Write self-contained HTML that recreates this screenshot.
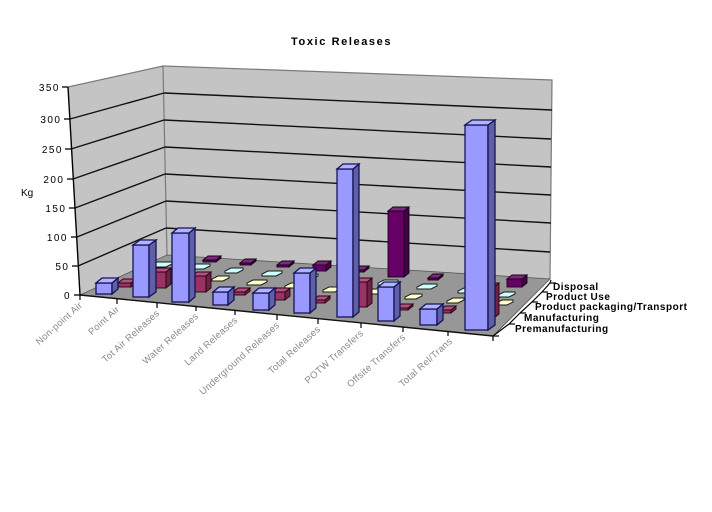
<!DOCTYPE html>
<html>
<head>
<meta charset="utf-8">
<style>
html,body{margin:0;padding:0;background:#fff;}
svg{display:block;}
text{font-family:"Liberation Sans",Arial,sans-serif;}
</style>
</head>
<body>
<svg width="712" height="512" viewBox="0 0 712 512" xmlns="http://www.w3.org/2000/svg">
<rect x="0" y="0" width="712" height="512" fill="#fff"/>

<!-- Title -->
<text x="291" y="45" font-size="11" font-weight="bold" letter-spacing="1.6" fill="#000">Toxic Releases</text>

<!-- Walls -->
<polygon points="68,87 163,66 167,255 80,295" fill="#c4c4c4"/>
<polygon points="163,66 552,80 550,279 167,255" fill="#c4c4c4"/>
<polyline points="68,87 163,66 552,80 550,279" fill="none" stroke="#7a7a7a" stroke-width="1.2"/>
<line x1="163" y1="66" x2="167" y2="255" stroke="#7a7a7a" stroke-width="1.2"/>

<!-- Gridlines -->
<g stroke="#111" stroke-width="1.4" fill="none">
<line x1="70" y1="119" x2="164" y2="93"/>
<line x1="71" y1="149" x2="164" y2="120"/>
<line x1="73" y1="179" x2="165" y2="147"/>
<line x1="75" y1="208" x2="165" y2="174"/>
<line x1="77" y1="237" x2="166" y2="201"/>
<line x1="78" y1="266" x2="166" y2="228"/>
<line x1="164" y1="93" x2="552" y2="110"/>
<line x1="164" y1="120" x2="551" y2="139"/>
<line x1="165" y1="147" x2="551" y2="167"/>
<line x1="165" y1="174" x2="551" y2="195"/>
<line x1="166" y1="201" x2="551" y2="223"/>
<line x1="166" y1="228" x2="550" y2="252"/>
</g>

<!-- Floor -->
<polygon points="80,295 493,336 550,279 167,255" fill="#979797" stroke="#555" stroke-width="0.8"/>
<line x1="80" y1="295" x2="493" y2="336" stroke="#111" stroke-width="1.4"/>

<!-- Y axis -->
<line x1="68" y1="87" x2="80" y2="295" stroke="#000" stroke-width="1.4"/>
<g stroke="#000" stroke-width="1.3">
<line x1="62" y1="87" x2="68" y2="87"/>
<line x1="64" y1="119" x2="70" y2="119"/>
<line x1="65" y1="149" x2="71" y2="149"/>
<line x1="67" y1="179" x2="73" y2="179"/>
<line x1="69" y1="208" x2="75" y2="208"/>
<line x1="71" y1="237" x2="77" y2="237"/>
<line x1="72" y1="266" x2="78" y2="266"/>
<line x1="74" y1="295" x2="80" y2="295"/>
</g>
<g font-size="10" fill="#000" text-anchor="end" letter-spacing="1.5">
<text x="60" y="91">350</text>
<text x="61.5" y="123">300</text>
<text x="63" y="153">250</text>
<text x="64.5" y="183">200</text>
<text x="66.5" y="212">150</text>
<text x="68" y="241">100</text>
<text x="69.5" y="270">50</text>
<text x="71" y="299">0</text>
</g>
<text x="21" y="196" font-size="10" fill="#000">Kg</text>

<!-- Row 5: Disposal (purple) -->
<g stroke="#1a001a" stroke-width="0.9">
<rect x="203" y="260" width="13" height="2" fill="#660066"/><polygon points="216,260 221,256 221,258 216,262" fill="#440044"/><polygon points="203,260 208,256 221,256 216,260" fill="#7a2a7a"/>
<rect x="240" y="263" width="11" height="2" fill="#660066"/><polygon points="251,263 256,259 256,261 251,265" fill="#440044"/><polygon points="240,263 245,259 256,259 251,263" fill="#7a2a7a"/>
<rect x="277" y="265" width="12" height="2" fill="#660066"/><polygon points="289,265 294,261 294,263 289,267" fill="#440044"/><polygon points="277,265 282,261 294,261 289,265" fill="#7a2a7a"/>
<rect x="313" y="265" width="13" height="6" fill="#660066"/><polygon points="326,265 331,261 331,267 326,271" fill="#440044"/><polygon points="313,265 318,261 331,261 326,265" fill="#7a2a7a"/>
<rect x="352" y="270" width="12" height="2" fill="#660066"/><polygon points="364,270 369,266 369,268 364,272" fill="#440044"/><polygon points="352,270 357,266 369,266 364,270" fill="#7a2a7a"/>
<rect x="388" y="211" width="16" height="66" fill="#660066"/><polygon points="404,211 409,207 409,273 404,277" fill="#440044"/><polygon points="388,211 393,207 409,207 404,211" fill="#7a2a7a"/>
<rect x="428" y="278" width="10" height="2" fill="#660066"/><polygon points="438,278 443,274 443,276 438,280" fill="#440044"/><polygon points="428,278 433,274 443,274 438,278" fill="#7a2a7a"/>
<rect x="507" y="279" width="15" height="8" fill="#660066"/><polygon points="522,279 527,275 527,283 522,287" fill="#440044"/><polygon points="507,279 512,275 527,275 522,279" fill="#7a2a7a"/>
</g>

<!-- Row 4: Product Use (cyan) -->
<g fill="#ccffff" stroke="#1a1a1a" stroke-width="1">
<polygon points="150,267 150,265 156,262 172,262 172,264 166,267"/>
<polygon points="190,269 190,267 196,264 210,264 210,266 204,269"/>
<polygon points="225,273 225,271 231,268 243,268 243,270 237,273"/>
<polygon points="262,276 262,274 268,271 282,271 282,273 276,276"/>
<polygon points="300,279 300,277 306,274 318,274 318,276 312,279"/>
<polygon points="340,282 340,280 346,277 358,277 358,279 352,282"/>
<polygon points="378,285 378,283 384,280 398,280 398,282 392,285"/>
<polygon points="417,289 417,287 423,284 437,284 437,286 431,289"/>
<polygon points="458,293 458,291 464,288 478,288 478,290 472,293"/>
<polygon points="498,297 498,295 504,292 515,292 515,294 509,297"/>
</g>

<!-- Row 3: Product packaging/Transport (yellow) -->
<g fill="#ffffcc" stroke="#1a1a1a" stroke-width="1">
<polygon points="212,281 212,279 218,276 229,276 229,278 223,281"/>
<polygon points="247,285 247,283 253,280 267,280 267,282 261,285"/>
<polygon points="285,288 285,286 291,283 303,283 303,285 297,288"/>
<polygon points="323,292 323,290 329,287 341,287 341,289 335,292"/>
<polygon points="366,294 366,292 372,289 384,289 384,291 378,294"/>
<polygon points="405,299 405,297 411,294 422,294 422,296 416,299"/>
<polygon points="447,303 447,301 453,298 464,298 464,300 458,303"/>
<polygon points="496,305 496,303 502,300 513,300 513,302 507,305"/>
</g>

<!-- Row 2: Manufacturing (maroon) -->
<g stroke="#2a000f" stroke-width="0.9">
<rect x="118" y="283" width="13" height="4" fill="#993366"/><polygon points="131,283 136,279 136,283 131,287" fill="#6b2447"/><polygon points="118,283 123,279 136,279 131,283" fill="#b0527f"/>
<rect x="152" y="272" width="14" height="16" fill="#993366"/><polygon points="166,272 171,268 171,284 166,288" fill="#6b2447"/><polygon points="152,272 157,268 171,268 166,272" fill="#b0527f"/>
<rect x="192" y="276" width="14" height="16" fill="#993366"/><polygon points="206,276 211,272 211,288 206,292" fill="#6b2447"/><polygon points="192,276 197,272 211,272 206,276" fill="#b0527f"/>
<rect x="233" y="292" width="12" height="3" fill="#993366"/><polygon points="245,292 250,288 250,291 245,295" fill="#6b2447"/><polygon points="233,292 238,288 250,288 245,292" fill="#b0527f"/>
<rect x="272" y="292" width="13" height="8" fill="#993366"/><polygon points="285,292 290,288 290,296 285,300" fill="#6b2447"/><polygon points="272,292 277,288 290,288 285,292" fill="#b0527f"/>
<rect x="313" y="300" width="12" height="3" fill="#993366"/><polygon points="325,300 330,296 330,299 325,303" fill="#6b2447"/><polygon points="313,300 318,296 330,296 325,300" fill="#b0527f"/>
<rect x="354" y="282" width="13" height="25" fill="#993366"/><polygon points="367,282 372,278 372,303 367,307" fill="#6b2447"/><polygon points="354,282 359,278 372,278 367,282" fill="#b0527f"/>
<rect x="396" y="308" width="12" height="2" fill="#993366"/><polygon points="408,308 413,304 413,306 408,310" fill="#6b2447"/><polygon points="396,308 401,304 413,304 408,308" fill="#b0527f"/>
<rect x="440" y="310" width="11" height="3" fill="#993366"/><polygon points="451,310 456,306 456,309 451,313" fill="#6b2447"/><polygon points="440,310 445,306 456,306 451,310" fill="#b0527f"/>
<rect x="483" y="287" width="11" height="31" fill="#993366"/><polygon points="494,287 499,283 499,314 494,318" fill="#6b2447"/><polygon points="483,287 488,283 499,283 494,287" fill="#b0527f"/>
</g>

<!-- Row 1: Premanufacturing (blue) -->
<g stroke="#141455" stroke-width="1.3">
<rect x="96" y="283" width="16" height="11" fill="#9999ff"/><polygon points="112,283 118,278 118,289 112,294" fill="#5f5fa8"/><polygon points="96,283 102,278 118,278 112,283" fill="#b3b3ff"/>
<rect x="133" y="245" width="16" height="52" fill="#9999ff"/><polygon points="149,245 156,240 156,292 149,297" fill="#5f5fa8"/><polygon points="133,245 140,240 156,240 149,245" fill="#b3b3ff"/>
<rect x="172" y="233" width="17" height="69" fill="#9999ff"/><polygon points="189,233 195,228 195,297 189,302" fill="#5f5fa8"/><polygon points="172,233 178,228 195,228 189,233" fill="#b3b3ff"/>
<rect x="213" y="292" width="15" height="13" fill="#9999ff"/><polygon points="228,292 234,287 234,300 228,305" fill="#5f5fa8"/><polygon points="213,292 219,287 234,287 228,292" fill="#b3b3ff"/>
<rect x="253" y="293" width="16" height="17" fill="#9999ff"/><polygon points="269,293 275,288 275,305 269,310" fill="#5f5fa8"/><polygon points="253,293 259,288 275,288 269,293" fill="#b3b3ff"/>
<rect x="294" y="273" width="16" height="40" fill="#9999ff"/><polygon points="310,273 316,268 316,308 310,313" fill="#5f5fa8"/><polygon points="294,273 300,268 316,268 310,273" fill="#b3b3ff"/>
<rect x="337" y="169" width="16" height="148" fill="#9999ff"/><polygon points="353,169 359,164 359,312 353,317" fill="#5f5fa8"/><polygon points="337,169 343,164 359,164 353,169" fill="#b3b3ff"/>
<rect x="378" y="287" width="16" height="34" fill="#9999ff"/><polygon points="394,287 400,282 400,316 394,321" fill="#5f5fa8"/><polygon points="378,287 384,282 400,282 394,287" fill="#b3b3ff"/>
<rect x="420" y="309" width="17" height="16" fill="#9999ff"/><polygon points="437,309 443,304 443,320 437,325" fill="#5f5fa8"/><polygon points="420,309 426,304 443,304 437,309" fill="#b3b3ff"/>
<rect x="465" y="125" width="23" height="205" fill="#9999ff"/><polygon points="488,125 495,120 495,325 488,330" fill="#5f5fa8"/><polygon points="465,125 472,120 495,120 488,125" fill="#b3b3ff"/>
</g>

<!-- X axis ticks -->
<g stroke="#000" stroke-width="1.2">
<line x1="80" y1="295" x2="80" y2="300"/>
<line x1="117" y1="299" x2="117" y2="304"/>
<line x1="157" y1="303" x2="157" y2="308"/>
<line x1="196" y1="306" x2="196" y2="311"/>
<line x1="235" y1="310" x2="235" y2="315"/>
<line x1="277" y1="315" x2="277" y2="320"/>
<line x1="318" y1="319" x2="318" y2="324"/>
<line x1="361" y1="323" x2="361" y2="328"/>
<line x1="403" y1="327" x2="403" y2="332"/>
<line x1="448" y1="331" x2="448" y2="336"/>
<line x1="493" y1="336" x2="493" y2="341"/>
</g>

<!-- X labels -->
<g font-size="9.5" fill="#8a8a8a" text-anchor="end" letter-spacing="0.3">
<text transform="translate(83,306) rotate(-42)">Non-point Air</text>
<text transform="translate(120,310) rotate(-42)">Point Air</text>
<text transform="translate(160,314) rotate(-42)">Tot Air Releases</text>
<text transform="translate(199,317) rotate(-42)">Water Releases</text>
<text transform="translate(238,321) rotate(-42)">Land Releases</text>
<text transform="translate(280,326) rotate(-42)">Underground Releases</text>
<text transform="translate(321,330) rotate(-42)">Total Releases</text>
<text transform="translate(364,334) rotate(-42)">POTW Transfers</text>
<text transform="translate(406,338) rotate(-42)">Offsite Transfers</text>
<text transform="translate(453,342) rotate(-42)">Total Rel/Trans</text>
</g>

<!-- Depth axis -->
<polyline points="493,336 509,324 520,313 532,302 542,292 550,283 551,280" fill="none" stroke="#000" stroke-width="1.2"/>
<g stroke="#000" stroke-width="1.2">
<line x1="493" y1="336" x2="499" y2="336"/>
<line x1="509" y1="324" x2="515" y2="324"/>
<line x1="520" y1="313" x2="526" y2="313"/>
<line x1="532" y1="302" x2="538" y2="302"/>
<line x1="542" y1="292" x2="548" y2="292"/>
<line x1="550" y1="283" x2="556" y2="283"/>
</g>
<g font-size="10" font-weight="bold" letter-spacing="0.5" fill="#000">
<text x="553" y="290">Disposal</text>
<text x="546" y="300">Product Use</text>
<text x="535" y="310">Product packaging/Transport</text>
<text x="524" y="321">Manufacturing</text>
<text x="515" y="332">Premanufacturing</text>
</g>
</svg>
</body>
</html>
